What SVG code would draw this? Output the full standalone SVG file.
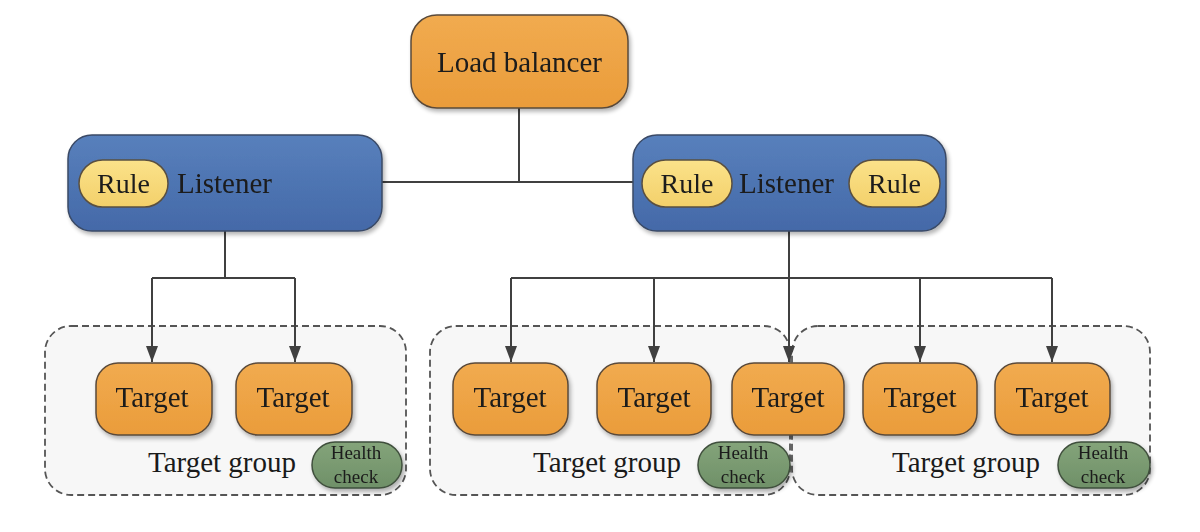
<svg xmlns="http://www.w3.org/2000/svg" width="1200" height="532" viewBox="0 0 1200 532">
<defs>
<linearGradient id="gOr" x1="0" y1="0" x2="0" y2="1"><stop offset="0" stop-color="#F1AB50"/><stop offset="1" stop-color="#EA9C3A"/></linearGradient>
<linearGradient id="gBl" x1="0" y1="0" x2="0" y2="1"><stop offset="0" stop-color="#5880BC"/><stop offset="1" stop-color="#4469A8"/></linearGradient>
<linearGradient id="gRu" x1="0" y1="0" x2="0" y2="1"><stop offset="0" stop-color="#FBE28A"/><stop offset="1" stop-color="#F3D06A"/></linearGradient>
<linearGradient id="gHc" x1="0" y1="0" x2="0" y2="1"><stop offset="0" stop-color="#84A47A"/><stop offset="1" stop-color="#6F9068"/></linearGradient>
<filter id="sh" x="-10%" y="-10%" width="130%" height="140%"><feGaussianBlur in="SourceAlpha" stdDeviation="2"/><feOffset dx="2" dy="3"/><feComponentTransfer><feFuncA type="linear" slope="0.3"/></feComponentTransfer><feMerge><feMergeNode/><feMergeNode in="SourceGraphic"/></feMerge></filter>
<marker id="ar2" viewBox="0 0 16 12" refX="16" refY="6" markerWidth="16" markerHeight="12" markerUnits="userSpaceOnUse" orient="auto"><path d="M0,0 L16,6 L0,12 z" fill="#404040"/></marker>
</defs>
<style>
.t{font-family:"Liberation Serif","Times New Roman",serif;fill:#1a1a1a}
.orange{fill:url(#gOr);stroke:#5a4a3a;stroke-width:1.5}
.blue{fill:url(#gBl);stroke:#3a4a66;stroke-width:1.5}
.rule{fill:url(#gRu);stroke:#5a5040;stroke-width:1.5}
.hc{fill:url(#gHc);stroke:#3f4f3c;stroke-width:1.5}
.grp{fill:#F7F7F7;stroke:#555;stroke-width:1.8;stroke-dasharray:7,4}
.ln{fill:none;stroke:#404040;stroke-width:2}
</style>
<g id="groups">
<g id="tg1"><rect class="grp" x="45" y="326" width="361" height="169" rx="26"/><text class="t" x="148" y="472" font-size="29">Target group</text></g>
<g id="tg2"><rect class="grp" x="430" y="326" width="360" height="169" rx="26"/><text class="t" x="533" y="472" font-size="29">Target group</text></g>
<g id="tg3"><rect class="grp" x="792" y="326" width="358" height="169" rx="26"/><text class="t" x="892" y="472" font-size="29">Target group</text></g>
</g>
<g id="connectors">
<path class="ln" d="M519,108 V182 M382,182 H633"/>
<path class="ln" d="M225,231 V278 M152,278 H295"/>
<path class="ln" d="M152,278 V362" marker-end="url(#ar2)"/>
<path class="ln" d="M295,278 V362" marker-end="url(#ar2)"/>
<path class="ln" d="M789,231 V278 M511,278 H1052"/>
<path class="ln" d="M511,278 V362" marker-end="url(#ar2)"/>
<path class="ln" d="M654,278 V362" marker-end="url(#ar2)"/>
<path class="ln" d="M789,278 V362" marker-end="url(#ar2)"/>
<path class="ln" d="M920,278 V362" marker-end="url(#ar2)"/>
<path class="ln" d="M1052,278 V362" marker-end="url(#ar2)"/>
</g>
<g id="lb" filter="url(#sh)"><rect class="orange" x="411" y="15" width="217" height="93" rx="26"/><text class="t" x="519.5" y="72" font-size="29" text-anchor="middle">Load balancer</text></g>
<g id="listener1" filter="url(#sh)"><rect class="blue" x="68" y="135" width="314" height="96" rx="24"/>
<rect class="rule" x="79" y="160" width="89" height="47" rx="23.5"/><text class="t" x="123.5" y="193" font-size="28" text-anchor="middle">Rule</text>
<text class="t" x="177" y="193" font-size="29">Listener</text></g>
<g id="listener2" filter="url(#sh)"><rect class="blue" x="633" y="135" width="313" height="96" rx="24"/>
<rect class="rule" x="642" y="160" width="90" height="47" rx="23.5"/><text class="t" x="687" y="193" font-size="28" text-anchor="middle">Rule</text>
<text class="t" x="739" y="193" font-size="29">Listener</text>
<rect class="rule" x="849" y="160" width="91" height="47" rx="23.5"/><text class="t" x="894.5" y="193" font-size="28" text-anchor="middle">Rule</text></g>
<g id="t1" filter="url(#sh)"><rect class="orange" x="96" y="363" width="116" height="72" rx="22"/><text class="t" x="152" y="407" font-size="29" text-anchor="middle">Target</text></g>
<g id="t2" filter="url(#sh)"><rect class="orange" x="236" y="363" width="116" height="72" rx="22"/><text class="t" x="293" y="407" font-size="29" text-anchor="middle">Target</text></g>
<g id="t3" filter="url(#sh)"><rect class="orange" x="453" y="363" width="115" height="72" rx="22"/><text class="t" x="510" y="407" font-size="29" text-anchor="middle">Target</text></g>
<g id="t4" filter="url(#sh)"><rect class="orange" x="597" y="363" width="114" height="72" rx="22"/><text class="t" x="654" y="407" font-size="29" text-anchor="middle">Target</text></g>
<g id="t5" filter="url(#sh)"><rect class="orange" x="732" y="363" width="112" height="72" rx="22"/><text class="t" x="788" y="407" font-size="29" text-anchor="middle">Target</text></g>
<g id="t6" filter="url(#sh)"><rect class="orange" x="863" y="363" width="114" height="72" rx="22"/><text class="t" x="920" y="407" font-size="29" text-anchor="middle">Target</text></g>
<g id="t7" filter="url(#sh)"><rect class="orange" x="995" y="363" width="115" height="72" rx="22"/><text class="t" x="1052" y="407" font-size="29" text-anchor="middle">Target</text></g>
<g id="hc1" filter="url(#sh)"><rect class="hc" x="312" y="442" width="90" height="46" rx="23"/><text class="t" x="356" y="459" font-size="19" text-anchor="middle">Health</text><text class="t" x="356" y="483" font-size="19" text-anchor="middle">check</text></g>
<g id="hc2" filter="url(#sh)"><rect class="hc" x="698" y="442" width="92" height="46" rx="23"/><text class="t" x="743" y="459" font-size="19" text-anchor="middle">Health</text><text class="t" x="743" y="483" font-size="19" text-anchor="middle">check</text></g>
<g id="hc3" filter="url(#sh)"><rect class="hc" x="1058" y="442" width="92" height="46" rx="23"/><text class="t" x="1103" y="459" font-size="19" text-anchor="middle">Health</text><text class="t" x="1103" y="483" font-size="19" text-anchor="middle">check</text></g>
</svg>
